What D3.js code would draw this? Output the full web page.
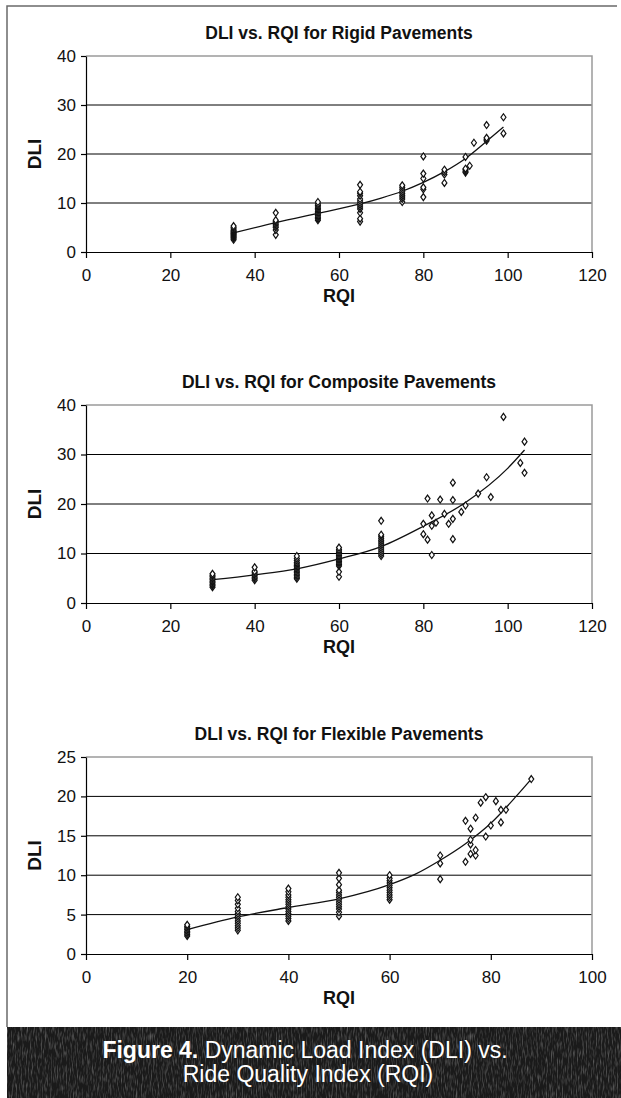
<!DOCTYPE html>
<html>
<head>
<meta charset="utf-8">
<script src="https://cdn.jsdelivr.net/npm/d3@7"></script>
<style>
  body { margin: 0; background: #fff; }
  svg { display: block; font-family: 'Liberation Sans', Arial, sans-serif; }
</style>
</head>
<body>
<div id="fig"></div>
<script>
// 数据：每列 RQI 对应的一组 DLI 读数
const rigidColumns = [
  { rqi: 35, dli: [2.5, 2.8, 3.0, 3.2, 3.4, 3.6, 3.8, 4.0, 4.2, 4.4, 4.7, 5.0, 5.3] },
  { rqi: 45, dli: [3.5, 4.5, 5.0, 5.3, 5.6, 5.9, 6.2, 6.5, 8.0] },
  { rqi: 55, dli: [6.5, 6.8, 7.1, 7.4, 7.7, 8.0, 8.3, 8.6, 8.9, 9.2, 9.5, 9.8, 10.2] },
  { rqi: 65, dli: [6.2, 6.8, 8.0, 8.8, 9.2, 9.6, 10.0, 10.4, 10.8, 11.5, 12.0, 12.3, 13.7] },
  { rqi: 75, dli: [10.2, 10.8, 11.2, 11.6, 12.0, 12.4, 12.8, 13.2, 13.6] },
  { rqi: 80, dli: [11.2, 12.8, 13.2, 15.0, 16.0, 19.5] },
  { rqi: 85, dli: [14.1, 15.8, 16.3, 16.8] },
  { rqi: 90, dli: [16.2, 16.5, 16.8, 17.0, 19.4] },
  { rqi: 91, dli: [17.6] },
  { rqi: 92, dli: [22.3] },
  { rqi: 95, dli: [22.7, 23.0, 23.3, 25.9] },
  { rqi: 99, dli: [24.2, 27.5] }
]
const rigidTrendRqi = [35, 45, 55, 65, 70, 75, 80, 85, 90, 95, 99]
const rigidTrendDli = [3.9, 6.0, 7.9, 9.8, 11.0, 12.4, 14.2, 16.4, 19.1, 22.6, 25.5]

const compositeColumns = [
  { rqi: 30, dli: [3.2, 3.5, 3.8, 4.1, 4.4, 4.7, 5.0, 5.3, 5.6, 5.9] },
  { rqi: 40, dli: [4.6, 4.9, 5.2, 5.5, 5.8, 6.1, 6.4, 7.2] },
  { rqi: 50, dli: [4.9, 5.2, 5.5, 5.8, 6.1, 6.4, 6.7, 7.0, 7.3, 7.6, 7.9, 8.2, 8.6, 9.0, 9.5] },
  { rqi: 60, dli: [5.3, 6.3, 7.5, 7.8, 8.1, 8.4, 8.7, 9.0, 9.3, 9.6, 9.9, 10.2, 10.5, 10.8, 11.2] },
  { rqi: 70, dli: [9.5, 9.9, 10.3, 10.7, 11.1, 11.5, 11.9, 12.3, 12.7, 13.1, 13.5, 13.8, 16.6] },
  { rqi: 80, dli: [13.9, 16.0] },
  { rqi: 81, dli: [12.8, 21.1] },
  { rqi: 82, dli: [9.7, 15.6, 17.7] },
  { rqi: 83, dli: [16.2] },
  { rqi: 84, dli: [20.9] },
  { rqi: 85, dli: [18.0] },
  { rqi: 86, dli: [16.0] },
  { rqi: 87, dli: [12.9, 17.0, 20.8, 24.3] },
  { rqi: 89, dli: [18.4] },
  { rqi: 90, dli: [19.7] },
  { rqi: 93, dli: [22.1] },
  { rqi: 95, dli: [25.4] },
  { rqi: 96, dli: [21.4] },
  { rqi: 99, dli: [37.6] },
  { rqi: 103, dli: [28.3] },
  { rqi: 104, dli: [26.3, 32.6] }
]
const compositeTrendRqi = [30, 40, 50, 60, 70, 80, 90, 100, 104]
const compositeTrendDli = [4.7, 5.7, 6.9, 8.9, 11.4, 15.5, 20.3, 27.2, 30.9]

const flexibleColumns = [
  { rqi: 20, dli: [2.3, 2.5, 2.7, 2.9, 3.1, 3.3, 3.5, 3.7] },
  { rqi: 30, dli: [3.0, 3.3, 3.6, 3.9, 4.2, 4.5, 4.8, 5.1, 5.4, 5.8, 6.3, 6.8, 7.2] },
  { rqi: 40, dli: [4.2, 4.5, 4.8, 5.1, 5.4, 5.7, 6.0, 6.3, 6.6, 6.9, 7.2, 7.5, 7.9, 8.3] },
  { rqi: 50, dli: [4.8, 5.3, 5.7, 6.0, 6.3, 6.6, 6.9, 7.2, 7.5, 7.8, 8.1, 8.8, 9.6, 10.3] },
  { rqi: 60, dli: [6.9, 7.2, 7.5, 7.8, 8.1, 8.4, 8.7, 9.0, 9.3, 9.6, 10.0] },
  { rqi: 70, dli: [9.5, 11.5, 12.5] },
  { rqi: 75, dli: [11.7, 16.9] },
  { rqi: 76, dli: [12.7, 13.9, 14.5, 15.9] },
  { rqi: 77, dli: [12.5, 13.2, 17.3] },
  { rqi: 78, dli: [19.2] },
  { rqi: 79, dli: [14.9, 19.9] },
  { rqi: 80, dli: [16.3] },
  { rqi: 81, dli: [19.4] },
  { rqi: 82, dli: [16.7, 18.3] },
  { rqi: 83, dli: [18.3] },
  { rqi: 88, dli: [22.2] }
]
const flexibleTrendRqi = [20, 30, 40, 50, 60, 65, 70, 75, 80, 85, 88]
const flexibleTrendDli = [3.1, 4.7, 5.9, 7.0, 8.8, 10.1, 11.9, 14.0, 16.6, 20.0, 22.2]

const W = 621
const H = 1098
const svg = d3.select('#fig').append('svg')
  .attr('width', W)
  .attr('height', H)

// 外框（左、上）
svg.append('path')
  .attr('d', 'M7,1027V6H617')
  .attr('fill', 'none')
  .attr('stroke', '#6a6a6a')
  .attr('stroke-width', 1.5)

const charts = [
  { title: 'DLI vs. RQI for Rigid Pavements', top: 56, bottom: 252, xMax: 120, xStep: 20, yMax: 40, yStep: 10,
    columns: rigidColumns, trendX: rigidTrendRqi, trendY: rigidTrendDli },
  { title: 'DLI vs. RQI for Composite Pavements', top: 405, bottom: 603, xMax: 120, xStep: 20, yMax: 40, yStep: 10,
    columns: compositeColumns, trendX: compositeTrendRqi, trendY: compositeTrendDli },
  { title: 'DLI vs. RQI for Flexible Pavements', top: 757, bottom: 954, xMax: 100, xStep: 20, yMax: 25, yStep: 5,
    columns: flexibleColumns, trendX: flexibleTrendRqi, trendY: flexibleTrendDli }
]

const left = 86
const right = 592

charts.forEach(drawChart)

function drawChart (c) {
  const g = svg.append('g')
  const x = d3.scaleLinear().domain([0, c.xMax]).range([left, right])
  const y = d3.scaleLinear().domain([0, c.yMax]).range([c.bottom, c.top])
  const yTicks = d3.range(0, c.yMax + 0.001, c.yStep)
  const xTicks = d3.range(0, c.xMax + 0.001, c.xStep)

  // 网格线
  g.append('g').selectAll('line')
    .data(yTicks.filter(d => d > 0 && d < c.yMax))
    .enter().append('line')
    .attr('x1', left).attr('x2', right)
    .attr('y1', d => y(d)).attr('y2', d => y(d))
    .attr('stroke', '#000')
    .attr('stroke-width', 1)

  // 绘图区边框（上、右）
  g.append('path')
    .attr('d', `M${left},${c.top}H${right}V${c.bottom}`)
    .attr('fill', 'none')
    .attr('stroke', '#9a9a9a')
    .attr('stroke-width', 1.5)

  // 坐标轴
  const yAxis = g.append('g')
    .attr('transform', `translate(${left},0)`)
    .call(d3.axisLeft(y).tickValues(yTicks).tickSize(5).tickPadding(5).tickSizeOuter(0))
  const xAxis = g.append('g')
    .attr('transform', `translate(0,${c.bottom})`)
    .call(d3.axisBottom(x).tickValues(xTicks).tickSize(6).tickPadding(11).tickSizeOuter(0))
  ;[yAxis, xAxis].forEach(a => {
    a.select('.domain').attr('stroke', '#000').attr('stroke-width', 1.2)
    a.selectAll('.tick line').attr('stroke', '#000').attr('stroke-width', 1.2)
    a.selectAll('.tick text')
      .attr('fill', '#111')
      .style('font-size', '17px')
      .style('font-family', "'Liberation Sans', Arial, sans-serif")
  })

  // 标题与轴名
  g.append('text')
    .attr('x', (left + right) / 2)
    .attr('y', c.top - 17)
    .attr('text-anchor', 'middle')
    .style('font-size', '17.5px')
    .style('font-weight', 'bold')
    .attr('fill', '#111')
    .text(c.title)
  g.append('text')
    .attr('x', (left + right) / 2)
    .attr('y', c.bottom + 50)
    .attr('text-anchor', 'middle')
    .style('font-size', '18px')
    .style('font-weight', 'bold')
    .attr('fill', '#111')
    .text('RQI')
  g.append('text')
    .attr('transform', `translate(41,${(c.top + c.bottom) / 2}) rotate(-90)`)
    .attr('text-anchor', 'middle')
    .style('font-size', '19px')
    .style('font-weight', 'bold')
    .attr('fill', '#111')
    .text('DLI')

  // 趋势线
  const trend = c.trendX.map((d, i) => [d, c.trendY[i]])
  g.append('path')
    .datum(trend)
    .attr('fill', 'none')
    .attr('stroke', '#111')
    .attr('stroke-width', 1.3)
    .attr('d', d3.line().x(d => x(d[0])).y(d => y(d[1])).curve(d3.curveMonotoneX))

  // 菱形散点
  const pts = []
  c.columns.forEach(col => col.dli.forEach(v => pts.push([col.rqi, v])))
  g.append('g').selectAll('path')
    .data(pts)
    .enter().append('path')
    .attr('d', d => `M${x(d[0])},${y(d[1]) - 3.5}l2.5,3.5l-2.5,3.5l-2.5,-3.5z`)
    .attr('fill', '#fff')
    .attr('stroke', '#111')
    .attr('stroke-width', 1.2)
}

// 底部说明栏
const defs = svg.append('defs')
const filter = defs.append('filter').attr('id', 'grain')
  .attr('x', 0).attr('y', 0).attr('width', '100%').attr('height', '100%')
filter.append('feTurbulence')
  .attr('type', 'fractalNoise')
  .attr('baseFrequency', '0.8 0.12')
  .attr('numOctaves', 2)
  .attr('seed', 4)
filter.append('feColorMatrix')
  .attr('type', 'matrix')
  .attr('values', '0 0 0 0 0.38  0 0 0 0 0.38  0 0 0 0 0.38  1.1 0 0 0 -0.5')
filter.append('feComposite').attr('in2', 'SourceGraphic').attr('operator', 'in')

svg.append('rect')
  .attr('x', 7).attr('y', 1027).attr('width', W - 7).attr('height', H - 1027)
  .attr('fill', '#1a1a1a')
svg.append('rect')
  .attr('x', 7).attr('y', 1027).attr('width', W - 7).attr('height', H - 1027)
  .attr('fill', '#1a1a1a')
  .attr('filter', 'url(#grain)')

const cap = svg.append('text')
  .attr('x', 305)
  .attr('y', 1058)
  .attr('text-anchor', 'middle')
  .attr('fill', '#fff')
  .style('font-size', '23px')
cap.append('tspan').style('font-weight', 'bold').text('Figure 4.')
cap.append('tspan').text(' Dynamic Load Index (DLI) vs.')
svg.append('text')
  .attr('x', 308)
  .attr('y', 1082)
  .attr('text-anchor', 'middle')
  .attr('fill', '#fff')
  .style('font-size', '23px')
  .text('Ride Quality Index (RQI)')
</script>
</body>
</html>
